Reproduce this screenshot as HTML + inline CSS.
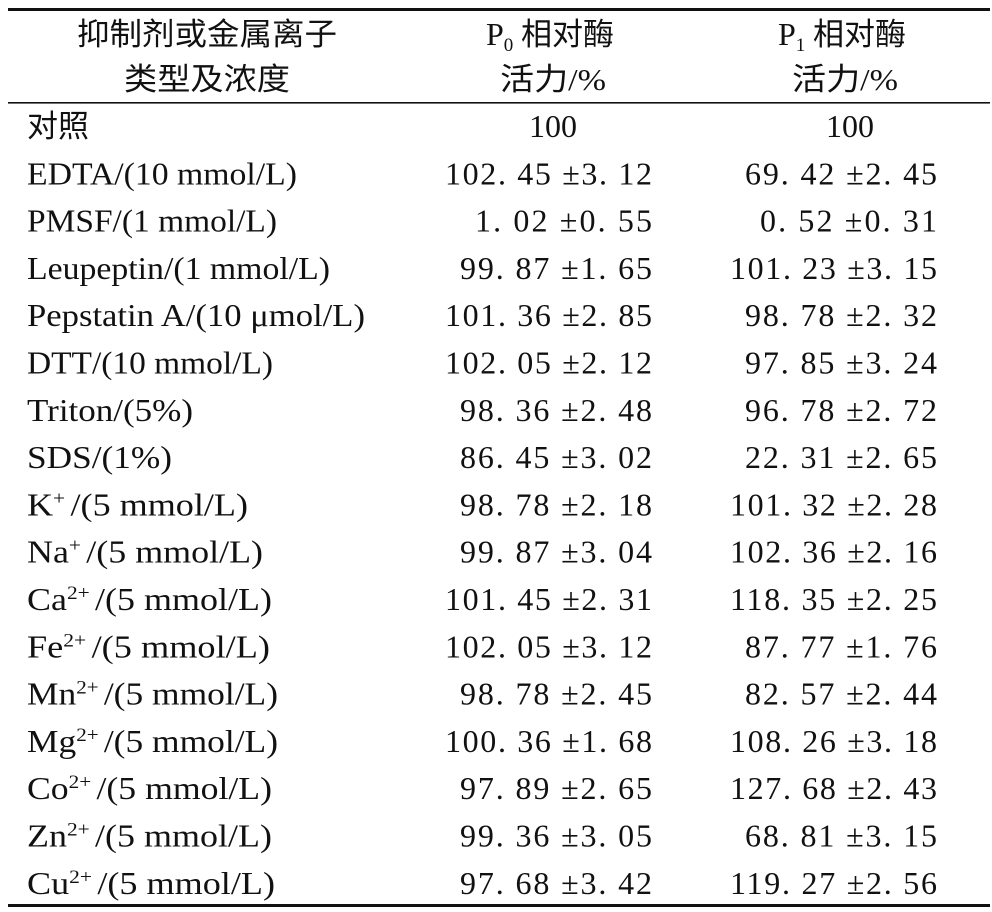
<!DOCTYPE html>
<html><head><meta charset="utf-8"><style>
html,body{margin:0;padding:0;background:#fff;}
svg{display:block;}
text{font-family:"Liberation Serif","Noto Serif CJK SC",serif;font-size:32px;fill:#111;}
.c{font-family:"Liberation Serif","Noto Sans CJK SC",sans-serif;font-size:31px;}
</style></head><body>
<svg width="992" height="912" viewBox="0 0 992 912" xmlns="http://www.w3.org/2000/svg">
<rect x="8" y="8" width="982" height="3" fill="#111"/>
<rect x="8" y="102" width="982" height="1.6" fill="#111"/>
<rect x="8" y="904" width="982" height="3" fill="#111"/>
<text class="c" x="77" y="45" textLength="260" lengthAdjust="spacingAndGlyphs">抑制剂或金属离子</text>
<text class="c" x="124" y="90" textLength="166" lengthAdjust="spacingAndGlyphs">类型及浓度</text>
<text x="486" y="45">P<tspan font-size="19" dy="6">0</tspan><tspan class="c" dy="-6"> 相对酶</tspan></text>
<text class="c" x="500" y="90" textLength="106" lengthAdjust="spacingAndGlyphs">活力/%</text>
<text x="778" y="45">P<tspan font-size="19" dy="6">1</tspan><tspan class="c" dy="-6"> 相对酶</tspan></text>
<text class="c" x="792" y="90" textLength="106" lengthAdjust="spacingAndGlyphs">活力/%</text>
<text class="c" x="27" y="137">对照</text>
<text x="553" y="137" text-anchor="middle">100</text>
<text x="850" y="137" text-anchor="middle">100</text>
<g id="rows"></g>
</svg>
<script>
var rows=[
["EDTA/(10 mmol/L)",270,"102.45 ±3.12","69.42 ±2.45"],
["PMSF/(1 mmol/L)",250,"1.02 ±0.55","0.52 ±0.31"],
["Leupeptin/(1 mmol/L)",303,"99.87 ±1.65","101.23 ±3.15"],
["Pepstatin A/(10 μmol/L)",338,"101.36 ±2.85","98.78 ±2.32"],
["DTT/(10 mmol/L)",246,"102.05 ±2.12","97.85 ±3.24"],
["Triton/(5%)",166,"98.36 ±2.48","96.78 ±2.72"],
["SDS/(1%)",145,"86.45 ±3.02","22.31 ±2.65"],
["K|+|/(5 mmol/L)",221,"98.78 ±2.18","101.32 ±2.28"],
["Na|+|/(5 mmol/L)",236,"99.87 ±3.04","102.36 ±2.16"],
["Ca|2+|/(5 mmol/L)",245,"101.45 ±2.31","118.35 ±2.25"],
["Fe|2+|/(5 mmol/L)",243,"102.05 ±3.12","87.77 ±1.76"],
["Mn|2+|/(5 mmol/L)",251,"98.78 ±2.45","82.57 ±2.44"],
["Mg|2+|/(5 mmol/L)",251,"100.36 ±1.68","108.26 ±3.18"],
["Co|2+|/(5 mmol/L)",245,"97.89 ±2.65","127.68 ±2.43"],
["Zn|2+|/(5 mmol/L)",245,"99.36 ±3.05","68.81 ±3.15"],
["Cu|2+|/(5 mmol/L)",248,"97.68 ±3.42","119.27 ±2.56"]];
var ns="http://www.w3.org/2000/svg",g=document.getElementById("rows");
function t(x,y,s,anchor,len,adj){var e=document.createElementNS(ns,"text");e.setAttribute("x",x);e.setAttribute("y",y);
if(anchor)e.setAttribute("text-anchor",anchor);
e.setAttribute("xml:space","preserve");
if(len){e.setAttribute("textLength",len);e.setAttribute("lengthAdjust",adj);}
var p=s.split("|");
if(p.length==3){e.appendChild(document.createTextNode(p[0]));var sp=document.createElementNS(ns,"tspan");sp.setAttribute("font-size","19");sp.setAttribute("dy","-11");sp.textContent=p[1]+" ";e.appendChild(sp);var r=document.createElementNS(ns,"tspan");r.setAttribute("dy","11");r.textContent=p[2];e.appendChild(r);}
else e.textContent=s;g.appendChild(e);}
function nl(s){var d=s.replace(/[^0-9]/g,"").length;return 192-(7-d)*15;}
function fmt(s){return s.replace(/\./g,". ");}
rows.forEach(function(r,i){var y=137+47.3*(i+1);
t(27,y,r[0],null,r[1],"spacingAndGlyphs");t(652,y,fmt(r[2]),"end",nl(r[2]),"spacing");t(937,y,fmt(r[3]),"end",nl(r[3]),"spacing");});
</script>
</body></html>
